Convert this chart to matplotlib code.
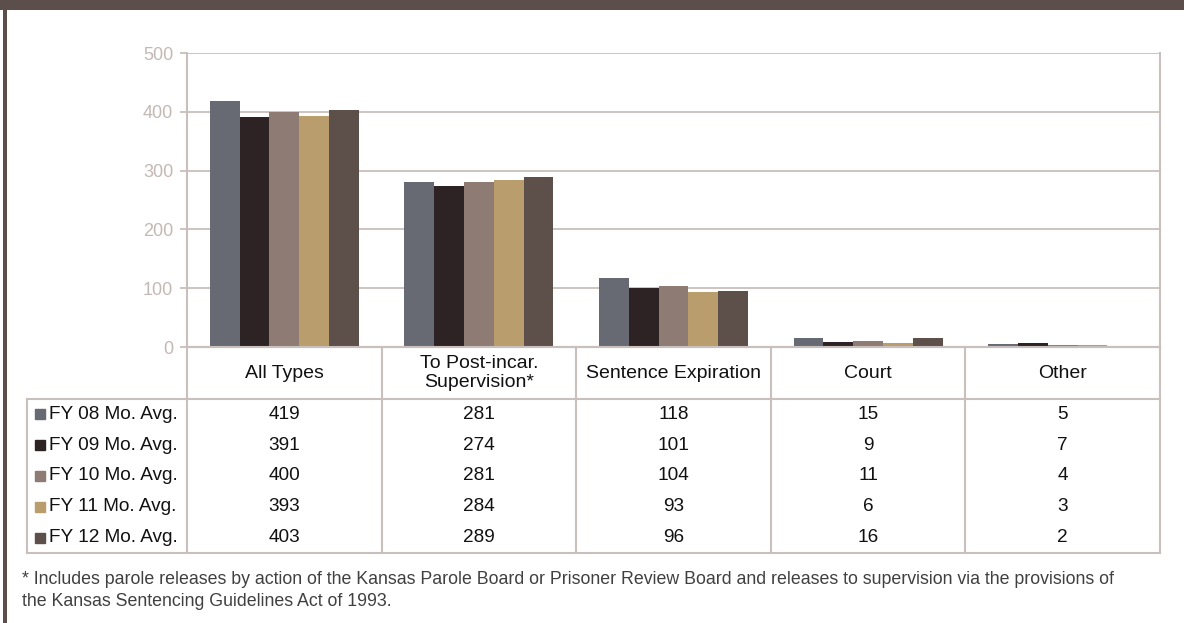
import numpy as np
import matplotlib
matplotlib.use('Agg')
import matplotlib.pyplot as plt
from matplotlib.patches import Rectangle

plt.rcParams['font.family'] = ['Liberation Sans', 'DejaVu Sans']

categories = ['All Types', 'To Post-incar.\nSupervision*', 'Sentence Expiration', 'Court', 'Other']
series = ['FY 08 Mo. Avg.', 'FY 09 Mo. Avg.', 'FY 10 Mo. Avg.', 'FY 11 Mo. Avg.', 'FY 12 Mo. Avg.']
fy08 = [419, 281, 118, 15, 5]
fy09 = [391, 274, 101, 9, 7]
fy10 = [400, 281, 104, 11, 4]
fy11 = [393, 284, 93, 6, 3]
fy12 = [403, 289, 96, 16, 2]
values = [fy08, fy09, fy10, fy11, fy12]
colors = ['#686a73', '#2d2325', '#8d7b74', '#b99d6d', '#5d4f4a']
yticks = [0, 100, 200, 300, 400, 500]
footnote = ['* Includes parole releases by action of the Kansas Parole Board or Prisoner Review Board and releases to supervision via the provisions of',
            'the Kansas Sentencing Guidelines Act of 1993.']

W, H = 1184, 623
grid_c = '#c9bfbc'
fig = plt.figure(figsize=(W / 100, H / 100), dpi=100)

# frame bits
fig.add_artist(Rectangle((0, 1 - 9.5 / H), 1, 9.5 / H, transform=fig.transFigure, color='#5c4f4b', lw=0))
fig.add_artist(Rectangle((3 / W, 0), 4 / W, 1, transform=fig.transFigure, color='#5c4f4b', lw=0))

# chart
ax = fig.add_axes([187 / W, 1 - 347 / H, (1160 - 187) / W, (347 - 53) / H])
x = np.arange(len(categories))
bw = 0.153
for i in range(len(series)):
    ax.bar(x + (i - 2) * bw, values[i], bw, color=colors[i], zorder=3)
ax.set_xlim(-0.5, 4.5)
ax.set_ylim(0, 500)
ax.set_yticks(yticks)
ax.set_xticks([])
ax.yaxis.grid(True, color=grid_c, lw=1.3, zorder=0)
ax.tick_params(axis='y', length=5, color=grid_c, width=1.3, labelcolor='#c4b8b4', labelsize=13, pad=5)
for s in ['left', 'right', 'bottom']:
    ax.spines[s].set_color(grid_c)
    ax.spines[s].set_linewidth(1.5)
ax.spines['top'].set_visible(False)

# data table
tax = fig.add_axes([27 / W, 1 - 553 / H, (1160 - 27) / W, (553 - 347) / H])
colw = (1160 - 187) / 5
xmin = -0.5 - 160 / colw
htop = -52 / 30.8
tax.set_xlim(xmin, 4.5)
tax.set_ylim(5, htop)
tax.axis('off')
lk = dict(color=grid_c, lw=1.5, clip_on=False)
for k in range(6):
    tax.plot([-0.5 + k, -0.5 + k], [htop, 5], **lk)
tax.plot([xmin, xmin], [0, 5], **lk)
tax.plot([-0.5, 4.5], [htop, htop], **lk)
tax.plot([xmin, 4.5], [0, 0], **lk)
tax.plot([xmin, 4.5], [5, 5], **lk)
for j, c in enumerate(categories):
    tax.text(j, htop / 2, c, ha='center', va='center', fontsize=14, color='#111111', linespacing=1.15)
for i, name in enumerate(series):
    tax.plot(xmin + 12.5 / colw, i + 0.5, 's', ms=7, color=colors[i], clip_on=False)
    tax.text(xmin + 22 / colw, i + 0.5, name, ha='left', va='center', fontsize=13.7, color='#111111')
    for j in range(len(categories)):
        tax.text(j, i + 0.5, str(values[i][j]), ha='center', va='center', fontsize=13.7, color='#111111')

fig.text(22 / W, 1 - 580 / H, footnote[0], ha='left', va='center', fontsize=12.8, color='#404040')
fig.text(22 / W, 1 - 601 / H, footnote[1], ha='left', va='center', fontsize=12.8, color='#404040')

fig.savefig('out.png', dpi=100)
